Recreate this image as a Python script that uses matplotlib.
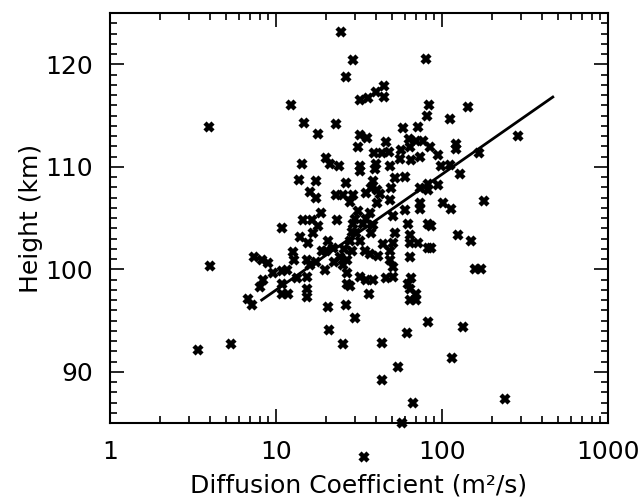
import matplotlib
matplotlib.use("Agg")
import matplotlib.pyplot as plt
from matplotlib.ticker import FixedLocator, FixedFormatter, MultipleLocator, LogLocator, NullFormatter

plt.rcParams['font.family'] = ['DejaVu Sans']

# Diffusion coefficient (m^2/s) and height (km) of each point
diff_coef = [24.8, 29.0, 26.3, 80.2, 44.8, 39.9, 35.8, 32.2, 44.7, 83.6,
             143, 81.6, 111, 12.3, 3.96, 14.7, 22.9, 18.0, 286, 57.9,
             71.8, 32.2, 35.4, 46.1, 63.0, 69.9, 76.8, 31.2, 20.1, 14.4,
             21.1, 24.0, 63.8, 84.2, 122, 122, 39.0, 43.6, 48.0, 56.4,
             55.6, 73.3, 65.4, 94.5, 168, 32.2, 32.2, 40.2, 39.3, 48.4,
             99.0, 111, 128, 52.2, 59.6, 26.3, 13.8, 17.4, 38.2, 37.2,
             40.4, 34.7, 42.1, 73.3, 82.3, 82.3, 94.1, 49.5, 25.3, 29.1,
             16.0, 17.4, 23.1, 27.8, 40.4, 48.4, 73.3, 73.3, 101, 114,
             178, 59.6, 50.8, 36.7, 34.7, 33.3, 38.5, 29.8, 18.6, 14.6,
             16.4, 17.8, 16.7, 23.4, 29.1, 10.9, 13.9, 15.6, 20.6, 22.1,
             20.1, 28.5, 30.5, 27.8, 37.6, 44.1, 51.8, 50.7, 62.3, 63.8,
             63.8, 71.6, 82.3, 86.2, 82.3, 86.2, 125, 150, 34.2, 36.7,
             41.2, 48.4, 48.4, 63.8, 26.6, 25.3, 50.7, 50.7, 46.2, 31.9,
             35.0, 38.4, 159, 171, 26.6, 26.6, 27.8, 65.4, 62.3, 63.8,
             70.0, 70.0, 63.8, 36.3, 12.7, 12.8, 7.35, 8.18, 8.96, 9.60,
             10.8, 11.6, 10.9, 10.9, 11.8, 7.99, 8.36, 6.79, 7.12, 15.3,
             16.0, 17.5, 19.7, 15.3, 15.3, 15.3, 13.3, 4.00, 24.2, 22.3,
             25.6, 18.9, 31.1, 31.9, 28.6, 20.6, 26.3, 29.8, 20.9, 25.3,
             82.3, 134, 61.5, 43.3, 115, 54.3, 43.3, 66.8, 240, 57.4,
             33.8, 3.40, 5.32]
height = [123.1, 120.4, 118.8, 120.5, 117.9, 117.3, 116.7, 116.5, 116.8, 116.0,
          115.8, 115.0, 114.7, 116.0, 113.9, 114.3, 114.2, 113.2, 113.0, 113.8,
          113.9, 113.1, 112.8, 112.4, 112.7, 112.5, 112.5, 111.9, 110.9, 110.3,
          110.3, 110.1, 111.9, 111.9, 112.2, 111.7, 111.3, 111.3, 111.4, 111.6,
          110.8, 111.0, 110.7, 111.1, 111.3, 110.1, 109.6, 110.3, 109.8, 110.1,
          110.1, 110.2, 109.3, 108.9, 109.0, 108.4, 108.7, 108.6, 108.6, 107.9,
          107.7, 107.4, 107.3, 107.9, 108.3, 107.7, 108.2, 107.9, 107.2, 107.2,
          107.5, 107.0, 107.2, 106.6, 106.5, 106.8, 106.5, 105.9, 106.5, 105.9,
          106.7, 105.8, 105.2, 105.5, 104.9, 104.4, 104.3, 104.9, 105.5, 104.8,
          104.8, 104.2, 103.5, 104.8, 104.4, 104.0, 103.1, 102.6, 102.8, 102.1,
          101.8, 103.6, 103.5, 102.8, 103.5, 102.5, 103.5, 102.6, 104.4, 103.3,
          102.6, 102.6, 104.4, 104.2, 102.1, 102.1, 103.3, 102.8, 101.8, 101.5,
          101.3, 101.8, 100.9, 101.2, 100.9, 100.4, 100.2, 99.2, 99.1, 99.2,
          99.0, 99.0, 100.0, 100.0, 99.6, 98.6, 98.4, 99.1, 98.6, 98.1,
          97.6, 97.0, 97.0, 97.6, 101.7, 100.9, 101.2, 100.9, 100.6, 99.6,
          99.8, 99.9, 98.6, 97.6, 97.6, 98.3, 99.0, 97.1, 96.5, 100.9,
          100.4, 100.7, 99.9, 99.2, 98.1, 97.3, 99.1, 100.3, 101.2, 100.7,
          102.0, 101.8, 105.7, 102.8, 101.8, 96.3, 96.5, 95.2, 94.1, 92.7,
          94.9, 94.4, 93.8, 92.8, 91.3, 90.5, 89.2, 87.0, 87.3, 85.0,
          81.7, 92.1, 92.7]

# Fitted line endpoints
fit_coef = [8.2, 465]
fit_height = [97.0, 116.8]

x_ticks = [1, 10, 100, 1000]
x_tick_labels = ["1", "10", "100", "1000"]
y_ticks = [90, 100, 110, 120]

fig = plt.figure(figsize=(6.41, 5.0), dpi=100)
ax = fig.add_axes([110/641, 1-423/500, 498/641, 410/500])

ax.plot(diff_coef, height, linestyle='none', marker='x', color='black',
        markersize=6.0, markeredgewidth=3.2, clip_on=False, zorder=3)
ax.plot(fit_coef, fit_height, color='black', linewidth=2.0, zorder=4)

ax.set_xscale('log')
ax.set_xlim(1, 1000)
ax.set_ylim(85, 125)

ax.xaxis.set_major_locator(FixedLocator(x_ticks))
ax.xaxis.set_major_formatter(FixedFormatter(x_tick_labels))
ax.xaxis.set_minor_locator(LogLocator(base=10, subs=range(2, 10)))
ax.xaxis.set_minor_formatter(NullFormatter())
ax.yaxis.set_major_locator(FixedLocator(y_ticks))
ax.yaxis.set_minor_locator(MultipleLocator(1))

ax.tick_params(which='both', direction='in', top=True, right=True,
               labelsize=18, width=1.2, colors='black')
ax.tick_params(which='major', length=10, pad=12)
ax.tick_params(which='minor', length=5)
for s in ax.spines.values():
    s.set_linewidth(1.5)

ax.set_xlabel("Diffusion Coefficient (m²/s)", fontsize=18, labelpad=7)
ax.set_ylabel("Height (km)", fontsize=18, labelpad=2)

fig.savefig("out.png", dpi=100)
